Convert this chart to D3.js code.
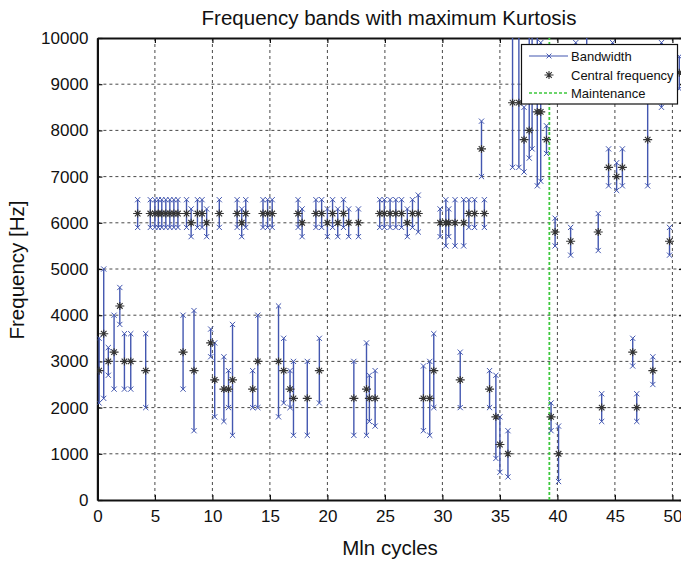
<!DOCTYPE html>
<html>
<head>
<meta charset="utf-8">
<script src="https://cdn.jsdelivr.net/npm/d3@7/dist/d3.min.js"></script>
<style>
  body { margin: 0; background: #fff; }
  text { font-family: "Liberation Sans", Arial, sans-serif; fill: #111; }
</style>
</head>
<body>
<div id="chart"></div>
<script>
// Mln cycles at which each band was measured
const cycles = [
  0.15, 0.55, 0.95, 1.45, 1.95, 2.35, 2.9, 3.5, 4.2, 4.6,
  5.0, 5.3, 5.6, 5.95, 6.3, 6.65, 7.0, 7.45, 7.75, 8.15,
  8.4, 8.7, 9.1, 9.5, 9.85, 10.2, 10.6, 11.0, 11.4, 11.75,
  12.15, 12.55, 12.9, 13.5, 13.95, 14.4, 14.8, 15.2, 15.75, 16.2,
  16.75, 17.05, 17.45, 17.8, 18.25, 19.0, 19.3, 19.5, 20.0, 20.45,
  20.9, 21.4, 21.85, 22.3, 22.7, 23.4, 23.65, 24.15, 24.55, 24.95,
  25.45, 25.95, 26.45, 26.95, 27.4, 27.9, 28.35, 28.9, 29.25, 29.8,
  30.3, 30.55, 31.1, 31.55, 31.85, 32.3, 32.8, 33.4, 33.65, 34.1,
  34.65, 35.0, 35.7, 36.1, 36.65, 37.1, 37.55, 37.8, 38.25, 38.55,
  39.05, 39.45, 39.8, 40.1, 41.15, 41.6, 42.55, 43.55, 43.85, 44.45,
  44.8, 45.15, 45.65, 46.55, 46.9, 47.85, 48.3, 49.05, 49.75, 50.6
];
// lower edge of the band [Hz]
const lowFreq = [
  2100, 2200, 2700, 2400, 3800, 2400, 2400, 5900, 2000, 5900,
  5900, 5900, 5900, 5900, 5900, 5900, 5900, 2400, 5900, 5700,
  1500, 5900, 5900, 5700, 3100, 1800, 5900, 1700, 2000, 1400,
  5900, 5700, 5900, 2000, 2000, 5900, 5900, 5900, 1800, 2100,
  2000, 1400, 5900, 5700, 1400, 5900, 2100, 5900, 5700, 5900,
  5700, 5900, 5700, 1400, 5700, 1400, 1700, 1600, 5900, 5900,
  5900, 5900, 5900, 5700, 5900, 5800, 1500, 1400, 2000, 5700,
  5500, 5700, 5500, 2000, 5500, 5900, 5900, 7000, 5900, 2000,
  900, 600, 500, 7200, 7200, 7100, 7400, 7600, 6800, 6900,
  7500, 1500, 5500, 400, 5300, 9000, 9200, 5400, 1700, 6800,
  9100, 6700, 6800, 2900, 1700, 6800, 2500, 8500, 5300, 8900
];
// central frequency [Hz]
const centralFreq = [
  2800, 3600, 3000, 3200, 4200, 3000, 3000, 6200, 2800, 6200,
  6200, 6200, 6200, 6200, 6200, 6200, 6200, 3200, 6200, 6000,
  2800, 6200, 6200, 6000, 3400, 2600, 6200, 2400, 2400, 2600,
  6200, 6000, 6200, 2400, 3000, 6200, 6200, 6200, 3000, 2800,
  2400, 2200, 6200, 6000, 2200, 6200, 2800, 6200, 6000, 6200,
  6000, 6200, 6000, 2200, 6000, 2400, 2200, 2200, 6200, 6200,
  6200, 6200, 6200, 6000, 6200, 6200, 2200, 2200, 2800, 6000,
  6000, 6000, 6000, 2600, 6000, 6200, 6200, 7600, 6200, 2400,
  1800, 1200, 1000, 8600, 8600, 7800, 8000, 8700, 8400, 8400,
  7800, 1800, 5800, 1000, 5600, 9450, 9600, 5800, 2000, 7200,
  9500, 7000, 7200, 3200, 2000, 7800, 2800, 9200, 5600, 9250
];
// upper edge of the band [Hz]
const highFreq = [
  3500, 5000, 3300, 4000, 4600, 3600, 3600, 6500, 3600, 6500,
  6500, 6500, 6500, 6500, 6500, 6500, 6500, 4000, 6500, 6300,
  4100, 6500, 6500, 6300, 3700, 3400, 6500, 3100, 2800, 3800,
  6500, 6300, 6500, 2800, 4000, 6500, 6500, 6500, 4200, 3500,
  2800, 3000, 6500, 6300, 3000, 6500, 3500, 6500, 6300, 6500,
  6300, 6500, 6300, 3000, 6300, 3400, 2700, 2800, 6500, 6500,
  6500, 6500, 6500, 6300, 6500, 6600, 2900, 3000, 3600, 6300,
  6500, 6300, 6500, 3200, 6500, 6500, 6500, 8200, 6500, 2800,
  2700, 1800, 1500, 10500, 10500, 8500, 10500, 10500, 10500, 9900,
  8100, 2100, 6100, 1600, 5900, 9900, 10500, 6200, 2300, 7600,
  9900, 7300, 7600, 3500, 2300, 9400, 3100, 9900, 5900, 9600
];
const maintenanceAt = 39.3;
const xTicks = [0, 5, 10, 15, 20, 25, 30, 35, 40, 45, 50];
const yTicks = [0, 1000, 2000, 3000, 4000, 5000, 6000, 7000, 8000, 9000, 10000];
const legendLabels = ["Bandwidth", "Central frequency", "Maintenance"];

const W = 681, H = 561;
const plotLeft = 97.4, plotTop = 38, plotBottom = 500;
const blue = "#4357b0";

const svg = d3.select("#chart").append("svg")
  .attr("width", W).attr("height", H);

const x = d3.scaleLinear().domain([0, 51]).range([plotLeft, plotLeft + 51 * 11.5]);
const y = d3.scaleLinear().domain([0, 10000]).range([plotBottom, plotTop]);
const plotRight = x(51);

svg.append("defs").append("clipPath").attr("id", "plot")
  .append("rect").attr("x", plotLeft).attr("y", plotTop)
  .attr("width", plotRight - plotLeft).attr("height", plotBottom - plotTop);

// grid
const grid = svg.append("g").attr("stroke", "#333").attr("stroke-width", 0.9)
  .attr("stroke-dasharray", "3,3");
grid.selectAll(".gx").data(xTicks.slice(1)).join("line")
  .attr("x1", d => x(d)).attr("x2", d => x(d))
  .attr("y1", plotTop).attr("y2", plotBottom);
grid.selectAll(".gy").data(yTicks.slice(1, -1)).join("line")
  .attr("x1", plotLeft).attr("x2", plotRight)
  .attr("y1", d => y(d)).attr("y2", d => y(d));

// axes
const axB = svg.append("g").attr("transform", `translate(0,${plotBottom})`)
  .call(d3.axisBottom(x).tickValues(xTicks).tickSizeInner(-5).tickSizeOuter(0).tickPadding(10));
const axT = svg.append("g").attr("transform", `translate(0,${plotTop})`)
  .call(d3.axisTop(x).tickValues(xTicks).tickSizeInner(-5).tickSizeOuter(0).tickFormat(""));
const axL = svg.append("g").attr("transform", `translate(${plotLeft},0)`)
  .call(d3.axisLeft(y).tickValues(yTicks).tickFormat(d3.format("d"))
    .tickSizeInner(-5).tickSizeOuter(0).tickPadding(9));
const axR = svg.append("g").attr("transform", `translate(${plotRight},0)`)
  .call(d3.axisRight(y).tickValues(yTicks).tickSizeInner(-5).tickSizeOuter(0).tickFormat(""));
[axB, axT, axL, axR].forEach(a => {
  a.select(".domain").attr("stroke", "#111").attr("stroke-width", 2.2);
  a.selectAll(".tick line").attr("stroke", "#111").attr("stroke-width", 1.2);
  a.selectAll("text").attr("font-size", 17).attr("fill", "#111")
    .attr("font-family", "'Liberation Sans', Arial, sans-serif");
});

const data = cycles.map((c, i) => ({ c, lo: lowFreq[i], mid: centralFreq[i], hi: highFreq[i] }));
const marks = svg.append("g").attr("clip-path", "url(#plot)");

// maintenance
marks.append("line")
  .attr("x1", x(maintenanceAt)).attr("x2", x(maintenanceAt))
  .attr("y1", y(0)).attr("y2", y(10000))
  .attr("stroke", "#3cc83c").attr("stroke-width", 1.8).attr("stroke-dasharray", "3,2");

function xMark(g, cx, cy, s, color) {
  g.append("path").attr("d", `M${cx - s},${cy - s}L${cx + s},${cy + s}M${cx - s},${cy + s}L${cx + s},${cy - s}`)
    .attr("stroke", color).attr("stroke-width", 1).attr("fill", "none");
}
function star(g, cx, cy) {
  g.append("path")
    .attr("d", `M${cx - 4.5},${cy}L${cx + 4.5},${cy}M${cx},${cy - 4}L${cx},${cy + 4}` +
      `M${cx - 2.8},${cy - 2.8}L${cx + 2.8},${cy + 2.8}M${cx - 2.8},${cy + 2.8}L${cx + 2.8},${cy - 2.8}`)
    .attr("stroke", "#333").attr("stroke-width", 1.1).attr("fill", "none");
}

// bandwidth
const bw = marks.append("g");
bw.selectAll("line").data(data).join("line")
  .attr("x1", d => x(d.c)).attr("x2", d => x(d.c))
  .attr("y1", d => y(d.lo)).attr("y2", d => y(d.hi))
  .attr("stroke", blue).attr("stroke-width", 1.4);
data.forEach(d => {
  xMark(bw, x(d.c), y(d.lo), 2.6, blue);
  xMark(bw, x(d.c), y(d.hi), 2.6, blue);
});

// central frequency
const cf = marks.append("g");
data.forEach(d => star(cf, x(d.c), y(d.mid)));

// legend
const lg = svg.append("g");
lg.append("rect").attr("x", 521.5).attr("y", 44.5).attr("width", 156).attr("height", 59.5)
  .attr("fill", "#fff").attr("stroke", "#111").attr("stroke-width", 1.2);
const rows = [56, 75, 93];
lg.append("line").attr("x1", 529).attr("x2", 568).attr("y1", rows[0]).attr("y2", rows[0])
  .attr("stroke", blue).attr("stroke-width", 1.2);
xMark(lg, 549, rows[0], 2.4, blue);
star(lg, 549, rows[1]);
lg.append("line").attr("x1", 529).attr("x2", 568).attr("y1", rows[2]).attr("y2", rows[2])
  .attr("stroke", "#3cc83c").attr("stroke-width", 1.6).attr("stroke-dasharray", "3,2");
lg.selectAll("text").data(legendLabels).join("text")
  .attr("x", 571).attr("y", (d, i) => rows[i] + 4.5)
  .attr("font-size", 13).text(d => d);

// titles
svg.append("text").attr("x", 389).attr("y", 25).attr("text-anchor", "middle")
  .attr("font-size", 20.5).text("Frequency bands with maximum Kurtosis");
svg.append("text").attr("x", 390).attr("y", 555).attr("text-anchor", "middle")
  .attr("font-size", 20.5).text("Mln cycles");
svg.append("text").attr("transform", `translate(24,270) rotate(-90)`)
  .attr("text-anchor", "middle").attr("font-size", 20.5).text("Frequency [Hz]");
</script>
</body>
</html>
